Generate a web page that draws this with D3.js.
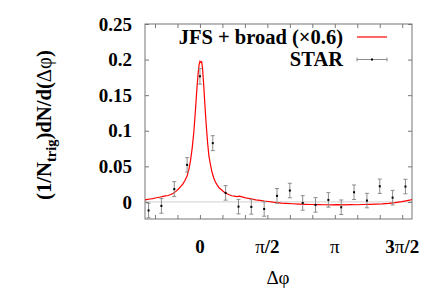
<!DOCTYPE html>
<html><head><meta charset="utf-8">
<script src="https://cdn.jsdelivr.net/npm/d3@7"></script>
<style>body{margin:0;background:#fff}svg{display:block}</style>
</head><body><svg id="c" width="436" height="305" font-family="'Times New Roman', 'Liberation Serif', serif"></svg>
<script>
const curveX = [-1.28,-1.22,-1.16,-1.10,-1.04,-0.98,-0.92,-0.86,-0.80,-0.74,-0.68,-0.62,-0.56,-0.50,-0.45,-0.40,-0.35,-0.30,-0.26,-0.22,-0.18,-0.14,-0.10,-0.07,-0.04,-0.02,0.00,0.02,0.04,0.06,0.09,0.12,0.15,0.18,0.21,0.24,0.28,0.32,0.36,0.40,0.45,0.50,0.56,0.62,0.68,0.74,0.80,0.86,0.92,0.98,1.04,1.10,1.16,1.22,1.30,1.40,1.50,1.60,1.70,1.80,1.90,2.00,2.15,2.30,2.45,2.60,2.75,2.90,3.05,3.20,3.35,3.50,3.65,3.80,3.95,4.10,4.25,4.40,4.55,4.70,4.80,4.88,4.94];
const curveY = [0.0030,0.0036,0.0041,0.0046,0.0055,0.0062,0.0069,0.0078,0.0086,0.0090,0.0105,0.0121,0.0148,0.0182,0.0215,0.0250,0.0300,0.0365,0.0450,0.0580,0.0760,0.1000,0.1330,0.1600,0.1820,0.1930,0.1975,0.1960,0.1970,0.1880,0.1620,0.1320,0.1050,0.0820,0.0640,0.0540,0.0420,0.0340,0.0280,0.0240,0.0195,0.0170,0.0140,0.0118,0.0100,0.0087,0.0082,0.0075,0.0080,0.0070,0.0060,0.0052,0.0048,0.0040,0.0030,0.0022,0.0012,0.0006,-0.0003,-0.0010,-0.0016,-0.0020,-0.0026,-0.0030,-0.0034,-0.0036,-0.0038,-0.0040,-0.0041,-0.0039,-0.0042,-0.0038,-0.0040,-0.0036,-0.0034,-0.0031,-0.0027,-0.0020,-0.0010,0.0004,0.0015,0.0024,0.0032];
const starX = [-1.197,-0.898,-0.598,-0.299,0,0.299,0.598,0.898,1.197,1.496,1.795,2.094,2.394,2.693,2.992,3.291,3.590,3.890,4.189,4.488,4.787];
const starY = [-0.0120,-0.0056,0.0180,0.0520,0.1765,0.0826,0.0127,-0.0066,-0.0070,-0.0099,0.0085,0.0160,-0.0014,-0.0042,0.0028,-0.0075,0.0136,0.0019,0.0220,0.0060,0.0216];
const starErr = [0.0102,0.0103,0.0105,0.0102,0.0110,0.0105,0.0102,0.0102,0.0102,0.0102,0.0103,0.0102,0.0102,0.0102,0.0102,0.0102,0.0102,0.0102,0.0101,0.0102,0.0102];
const yTicks = [0,0.05,0.1,0.15,0.2,0.25];
const yTickLabels = ["0","0.05","0.1","0.15","0.2","0.25"];
const xMinorTicks = [-2,-1,0,1,2,3,4,5,6,7,8,9].map(k=>k*Math.PI/6);
const xTicks = [0,Math.PI/2,Math.PI,3*Math.PI/2];
const xTickLabels = ["0","π/2","π","3π/2"];
const legendLabels = ["JFS + broad (×0.6)","STAR"];

const svg = d3.select("#c");
const L=145,R=412,T=24,B=219;
const x = d3.scaleLinear().domain([-1.28,4.94]).range([L,R]);
const y = d3.scaleLinear().domain([-0.024,0.25]).range([B,T]);
const frameCol="#777";

svg.append("line").attr("x1",L).attr("x2",R).attr("y1",y(0)).attr("y2",y(0)).attr("stroke","#d0d0d0").attr("stroke-width",1);

const ax = (g)=>g.call(s=>s.select(".domain").remove()).call(s=>s.selectAll("line").attr("stroke",frameCol)).call(s=>s.selectAll("text").remove());
svg.append("g").attr("transform",`translate(${L},0)`).call(d3.axisRight(y).tickValues(yTicks).tickSize(4).tickFormat("")).call(ax);
svg.append("g").attr("transform",`translate(${R},0)`).call(d3.axisLeft(y).tickValues(yTicks).tickSize(4).tickFormat("")).call(ax);
svg.append("g").attr("transform",`translate(0,${B})`).call(d3.axisTop(x).tickValues(xMinorTicks).tickSize(4).tickFormat("")).call(ax);
svg.append("g").attr("transform",`translate(0,${T})`).call(d3.axisBottom(x).tickValues(xMinorTicks).tickSize(4).tickFormat("")).call(ax);
svg.append("rect").attr("x",L).attr("y",T).attr("width",R-L).attr("height",B-T).attr("fill","none").attr("stroke",frameCol).attr("stroke-width",1);

const FF="'Times New Roman', 'Liberation Serif', serif";
svg.append("g").selectAll("text").data(yTicks).join("text")
 .attr("font-family",FF)
 .attr("x",132).attr("y",d=>y(d)).attr("dy","0.35em").attr("text-anchor","end")
 .attr("font-size",19).attr("font-weight","bold").attr("fill","#000").text((d,i)=>yTickLabels[i]);
const xl = svg.append("g").selectAll("text").data(xTicks).join("text")
 .attr("font-family",FF)
 .attr("x",d=>x(d)).attr("y",253).attr("text-anchor","middle")
 .attr("font-size",19).attr("font-weight","bold").attr("fill","#000");
xl.each(function(d,i){
  const t=d3.select(this); const s=xTickLabels[i];
  for(const ch of s){ t.append("tspan").attr("font-weight",ch==="π"?"normal":"bold").text(ch); }
});

svg.append("text").attr("font-family",FF).attr("x",278).attr("y",284).attr("text-anchor","middle").attr("font-size",19).text("Δφ");

// y-axis title: fit to reference extent (y 50..200, centred x≈46)
const yt = svg.append("text").attr("font-family",FF).attr("font-size",20).attr("font-weight","bold");
yt.append("tspan").text("(1/N");
yt.append("tspan").attr("font-size",14).attr("dy",5).text("trig");
yt.append("tspan").attr("dy",-5).text(")dN/d(");
yt.append("tspan").attr("font-weight","normal").text("Δφ");
yt.append("tspan").text(")");
let bb = yt.node().getBBox();
const targetLen = 150;
const k = targetLen / bb.width;
yt.attr("font-size",20*k);
yt.selectAll("tspan").filter((d,i)=>i===1).attr("font-size",14*k);
bb = yt.node().getBBox();
// rotate -90 around; bbox centre should land at (46,125)
const cx = bb.x + bb.width/2, cy = bb.y + bb.height/2;
yt.attr("transform",`translate(46,125) rotate(-90) translate(${-cx},${-cy})`);

const curve = curveX.map((d,i)=>[d,curveY[i]]);
svg.append("clipPath").attr("id","cp").append("rect").attr("x",L).attr("y",T).attr("width",R-L).attr("height",B-T);
svg.append("path").datum(curve).attr("clip-path","url(#cp)")
 .attr("d",d3.line().x(d=>x(d[0])).y(d=>y(d[1])))
 .attr("fill","none").attr("stroke","#ff0000").attr("stroke-width",1.2);

const star = starX.map((d,i)=>({x:d,y:starY[i],e:starErr[i]}));
const g = svg.append("g");
g.selectAll(".eb").data(star).join("path").attr("class","eb")
 .attr("d",d=>{const px=x(d.x),y1=y(d.y-d.e),y2=y(d.y+d.e);return `M${px},${y1}V${y2}M${px-2},${y1}H${px+2}M${px-2},${y2}H${px+2}`;})
 .attr("stroke","#8c8c8c").attr("fill","none").attr("stroke-width",1);
g.selectAll(".pt").data(star).join("rect").attr("class","pt")
 .attr("x",d=>x(d.x)-1).attr("y",d=>y(d.y)-1).attr("width",2).attr("height",2).attr("fill","#000");

svg.append("text").attr("font-family",FF).attr("x",343).attr("y",44).attr("text-anchor","end").attr("font-size",20.5).attr("font-weight","bold").text(legendLabels[0]);
svg.append("line").attr("x1",357).attr("x2",387).attr("y1",37).attr("y2",37).attr("stroke","#ff0000").attr("stroke-width",1.2);
svg.append("text").attr("font-family",FF).attr("x",343).attr("y",65.5).attr("text-anchor","end").attr("font-size",20.5).attr("font-weight","bold").text(legendLabels[1]);
svg.append("path").attr("d","M357,59.5H387M357,57.5V61.5M387,57.5V61.5").attr("stroke","#8c8c8c").attr("fill","none");
svg.append("rect").attr("x",371).attr("y",58.5).attr("width",2).attr("height",2).attr("fill","#000");
</script></body></html>
